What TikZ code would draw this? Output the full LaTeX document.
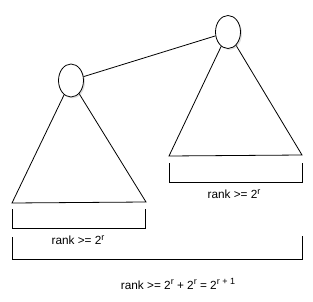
\documentclass[tikz,border=0pt]{standalone}
\usepackage{fontspec}
\setmainfont{Liberation Sans}
\usetikzlibrary{shapes.geometric,shadows}
\newcommand{\mysup}[1]{\raisebox{0.75ex}{\fontsize{9}{10}\selectfont #1}}
\tikzset{
  treenode/.style={ellipse, draw, fill=white, line width=0.8pt, minimum width=25pt, minimum height=33pt, inner sep=0pt,
    drop shadow={opacity=0.25, shadow xshift=1.5pt, shadow yshift=-1.5pt}},
  edge/.style={line width=0.8pt, line join=miter},
  lbl/.style={font=\fontsize{11.8}{13}\selectfont, inner sep=0pt}
}
\begin{document}
\begin{tikzpicture}[x=1pt,y=-1pt]
\useasboundingbox (0,0) rectangle (313,302);
% triangles
\coordinate (lA) at (71,80.5);
\coordinate (lB1) at (12,203);
\coordinate (lB2) at (146,202);
\coordinate (rA) at (228,32);
\coordinate (rB1) at (169,156);
\coordinate (rB2) at (302,155);
\draw[edge] (lA) -- (lB1) -- (lB2) -- cycle;
\draw[edge] (rA) -- (rB1) -- (rB2) -- cycle;
% nodes
\node[treenode] (L) at (lA) {};
\node[treenode] (R) at (rA) {};
\draw[edge] (L) -- (R);
% left bracket
\coordinate (lb1) at (12.3,209);
\coordinate (lb2) at (12.3,228);
\coordinate (lb3) at (145.7,228);
\coordinate (lb4) at (145.7,209);
\draw[edge] (lb1) -- (lb2) -- (lb3) -- (lb4);
\node[lbl] (ltext) at (78,240) {rank >= 2\mysup{r}};
% right bracket
\coordinate (rb1) at (169,163);
\coordinate (rb2) at (169,182);
\coordinate (rb3) at (302,182);
\coordinate (rb4) at (302,163);
\draw[edge] (rb1) -- (rb2) -- (rb3) -- (rb4);
\node[lbl] (rtext) at (234,194) {rank >= 2\mysup{r}};
% big bracket
\coordinate (bb1) at (12.3,237);
\coordinate (bb2) at (12.3,259);
\coordinate (bb3) at (302,259);
\coordinate (bb4) at (302,236);
\draw[edge] (bb1) -- (bb2) -- (bb3) -- (bb4);
\node[lbl] (btext) at (178,284) {rank >= 2\mysup{r} + 2\mysup{r} = 2\mysup{r + 1}};
\end{tikzpicture}
\end{document}
